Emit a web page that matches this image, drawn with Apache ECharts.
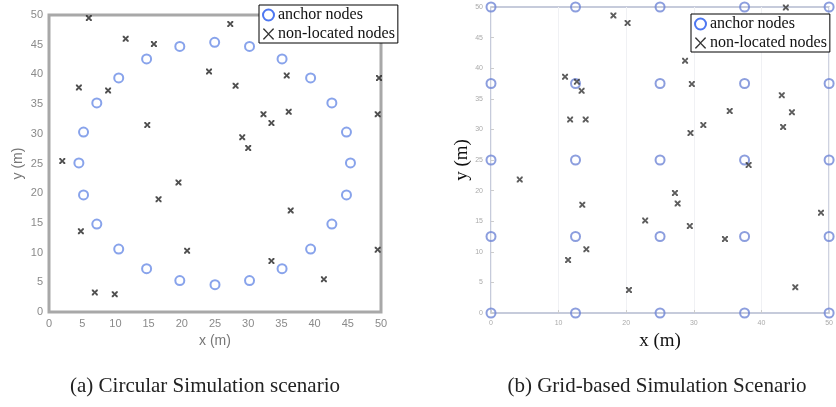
<!DOCTYPE html>
<html>
<head>
<meta charset="utf-8">
<script src="https://cdn.jsdelivr.net/npm/echarts@6/dist/echarts.min.js"></script>
<style>html,body{margin:0;padding:0;background:#fff}#c{width:836px;height:407px}</style>
</head>
<body>
<div id="c"></div>
<script>
// (a) Circular scenario
const circAnchors = [
  [19.7,44.7],[24.95,45.4],[30.2,44.7],[35.1,42.6],[39.4,39.4],[42.6,35.2],[44.8,30.3],[45.4,25.1],
  [44.8,19.7],[42.6,14.8],[39.4,10.6],[35.1,7.3],[30.2,5.3],[25.0,4.6],[19.7,5.3],[14.7,7.3],
  [10.5,10.6],[7.2,14.8],[5.2,19.7],[4.5,25.1],[5.2,30.3],[7.2,35.2],[10.5,39.4],[14.7,42.6]
];
const circNodes = [
  [6.0,49.5],[11.55,46.0],[15.8,45.1],[27.3,48.5],[4.5,37.8],[8.9,37.3],[24.1,40.5],[28.1,38.1],
  [35.8,39.8],[49.7,39.4],[49.5,33.3],[36.1,33.7],[32.3,33.3],[33.5,31.8],[14.8,31.5],[29.1,29.4],
  [30.0,27.6],[2.0,25.4],[19.5,21.8],[16.5,19.0],[36.4,17.1],[4.8,13.6],[20.8,10.3],[49.5,10.5],
  [33.5,8.6],[41.4,5.5],[6.9,3.3],[9.9,3.0]
];
// (b) Grid-based scenario
const gridAnchors = [
  [0,0],[12.5,0],[25,0],[37.5,0],[50,0],
  [0,12.5],[12.5,12.5],[25,12.5],[37.5,12.5],[50,12.5],
  [0,25],[12.5,25],[25,25],[37.5,25],[50,25],
  [0,37.5],[12.5,37.5],[25,37.5],[37.5,37.5],[50,37.5],
  [0,50],[12.5,50],[25,50],[37.5,50],[50,50]
];
const gridNodes = [
  [43.6,49.9],[18.1,48.6],[20.2,47.4],[28.7,41.2],[10.95,38.6],[12.7,37.8],[13.4,36.3],[29.7,37.4],
  [43.0,35.6],[35.3,33.0],[44.5,32.8],[11.7,31.6],[14.0,31.6],[31.4,30.7],[43.2,30.4],[29.5,29.4],
  [38.1,24.2],[4.25,21.8],[27.2,19.6],[27.6,17.9],[13.5,17.7],[48.8,16.4],[22.8,15.1],[29.4,14.2],
  [34.6,12.1],[14.1,10.4],[11.4,8.65],[20.4,3.75],[45.0,4.2]
];
const captions = ['(a) Circular Simulation scenario', '(b) Grid-based Simulation Scenario'];
const seriesNames = ['anchor nodes', 'non-located nodes'];

const xPath = 'path://M0,0 L2.5,0 L5,3 L7.5,0 L10,0 L10,2.5 L7,5 L10,7.5 L10,10 L7.5,10 L5,7 L2.5,10 L0,10 L0,7.5 L3,5 L0,2.5 Z';
const xThin = 'path://M0,0 L1.2,0 L5,4.2 L8.8,0 L10,0 L10,0.6 L5.7,5 L10,9.4 L10,10 L8.8,10 L5,5.8 L1.2,10 L0,10 L0,9.4 L4.3,5 L0,0.6 Z';

const chart = echarts.init(document.getElementById('c'));
const serif = 'Liberation Serif, Times New Roman, serif';
const sans = 'Liberation Sans, Arial, sans-serif';

function legendFor(left, top) {
  return {left: left, top: top, orient: 'vertical', itemGap: 3, itemWidth: 11, itemHeight: 11,
    padding: [2, 3, 1, 3], borderColor: '#000', borderWidth: 1, backgroundColor: '#fff',
    textStyle: {fontFamily: serif, fontSize: 16, color: '#111', padding: [0,0,0,-1]},
    data: [
      {name: seriesNames[0], icon: 'emptyCircle', itemStyle: {color: '#2255ee', borderColor: '#2255ee', borderWidth: 1.2}},
      {name: seriesNames[1], icon: xThin, itemStyle: {color: '#000', borderWidth: 0}}
    ]};
}

chart.setOption({
  animation: false,
  backgroundColor: '#fff',
  title: [
    {text: captions[0], left: 200, top: 371, textAlign: 'center',
     textStyle: {fontFamily: serif, fontSize: 21, fontWeight: 'normal', color: '#222'}},
    {text: captions[1], left: 652, top: 371, textAlign: 'center',
     textStyle: {fontFamily: serif, fontSize: 21, fontWeight: 'normal', color: '#222'}}
  ],
  legend: [legendFor(259, 5), legendFor(691, 14)],
  grid: [
    {left: 49, top: 15, width: 332, height: 297, show: true, borderColor: '#a8a8a8', borderWidth: 3},
    {left: 491, top: 7, width: 341, height: 306, show: true, borderColor: '#b4bad0', borderWidth: 1.5}
  ],
  xAxis: [
    {gridIndex: 0, type: 'value', min: 0, max: 50, interval: 5,
     axisLine: {show: false}, axisTick: {show: false}, splitLine: {show: false},
     axisLabel: {color: '#8a8a8a', fontFamily: sans, fontSize: 11, margin: 6},
     name: 'x (m)', nameLocation: 'middle', nameGap: 21,
     nameTextStyle: {color: '#777', fontFamily: sans, fontSize: 14}},
    {gridIndex: 1, type: 'value', min: 0, max: 50, interval: 10,
     axisLine: {show: false}, axisTick: {show: true, inside: true, length: 3, lineStyle: {color: '#ccc'}},
     splitLine: {show: true, lineStyle: {color: '#f0f1f4', width: 1}},
     axisLabel: {color: '#aaa', fontFamily: sans, fontSize: 7, margin: 7},
     name: 'x (m)', nameLocation: 'middle', nameGap: 18,
     nameTextStyle: {color: '#111', fontFamily: serif, fontSize: 19}}
  ],
  yAxis: [
    {gridIndex: 0, type: 'value', min: 0, max: 50, interval: 5,
     axisLine: {show: false}, axisTick: {show: false}, splitLine: {show: false},
     axisLabel: {color: '#8a8a8a', fontFamily: sans, fontSize: 11, margin: 6},
     name: 'y (m)', nameLocation: 'middle', nameGap: 24,
     nameTextStyle: {color: '#777', fontFamily: sans, fontSize: 14}},
    {gridIndex: 1, type: 'value', min: 0, max: 50, interval: 5,
     axisLine: {show: false}, axisTick: {show: true, inside: true, length: 3, lineStyle: {color: '#ccc'}},
     splitLine: {show: false},
     axisLabel: {color: '#aaa', fontFamily: sans, fontSize: 7, margin: 8},
     name: 'y (m)', nameLocation: 'middle', nameGap: 13,
     nameTextStyle: {color: '#111', fontFamily: serif, fontSize: 19}}
  ],
  series: [
    {name: seriesNames[0], type: 'scatter', xAxisIndex: 0, yAxisIndex: 0, data: circAnchors,
     symbol: 'circle', symbolSize: 9, itemStyle: {color: 'rgba(0,0,0,0)', borderColor: '#6a8ce6', borderWidth: 2}},
    {name: seriesNames[1], type: 'scatter', xAxisIndex: 0, yAxisIndex: 0, data: circNodes,
     symbol: xPath, symbolSize: 6, itemStyle: {color: '#222'}},
    {name: seriesNames[0], type: 'scatter', xAxisIndex: 1, yAxisIndex: 1, data: gridAnchors,
     symbol: 'circle', symbolSize: 9, itemStyle: {color: 'rgba(0,0,0,0)', borderColor: '#6f86d6', borderWidth: 2}},
    {name: seriesNames[1], type: 'scatter', xAxisIndex: 1, yAxisIndex: 1, data: gridNodes,
     symbol: xPath, symbolSize: 6, itemStyle: {color: '#333'}}
  ]
});
</script>
</body>
</html>
